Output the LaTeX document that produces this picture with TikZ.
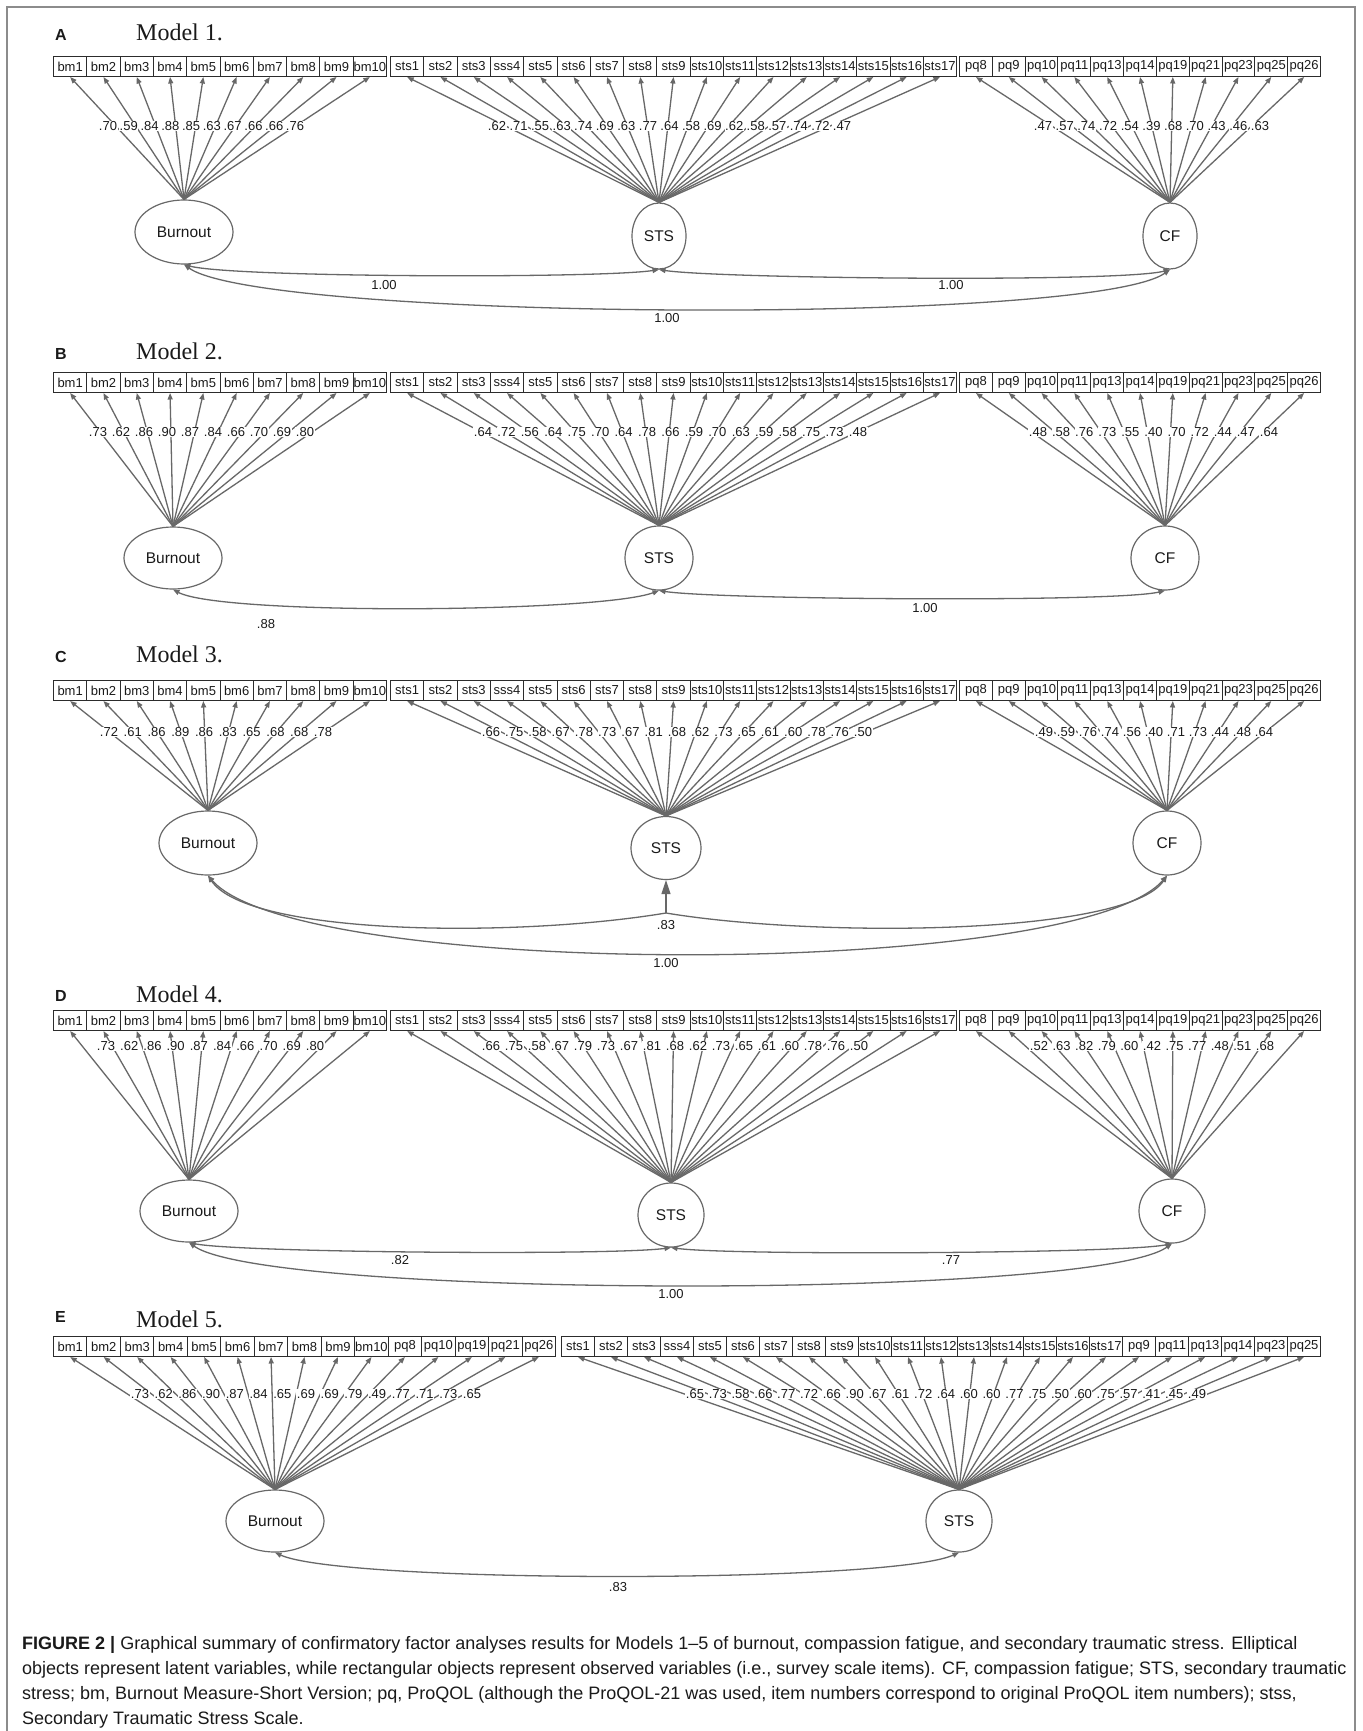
\documentclass[tikz,border=0pt]{standalone}
\usepackage{fontspec}
\setmainfont{Liberation Sans}
\newfontfamily\serifmodel{Liberation Serif}
\usetikzlibrary{arrows.meta,shapes.geometric}
\definecolor{ln}{HTML}{686868}
\definecolor{bx}{HTML}{2C2C2C}
\definecolor{tx}{HTML}{1A1A1A}
\definecolor{frm}{HTML}{8C8C8C}
\tikzset{
 itembox/.style={draw=bx, line width=1pt, minimum height=20pt, inner sep=0pt, anchor=north west, font=\fontsize{13}{13}\selectfont, text=tx},
 latent/.style={draw=ln, line width=1.2pt, ellipse, inner sep=0pt, font=\fontsize{15.5}{16}\selectfont, text=tx},
 load/.style={draw=ln, line width=1.3pt, arrows={-Triangle[length=6.5pt,width=5pt]}},
 cov/.style={draw=ln, line width=1.3pt, arrows={Triangle[length=6.5pt,width=5pt]-Triangle[length=6.5pt,width=5pt]}},
 bigarr/.style={draw=ln, line width=1.3pt, arrows={-Triangle[length=14pt,width=9pt]}},
 lbl/.style={fill=white, inner sep=0.5pt, font=\fontsize{13}{13}\selectfont, text=tx},
 covlbl/.style={inner sep=0pt, font=\fontsize{13}{13}\selectfont, text=tx},
 hdr/.style={anchor=base west, inner sep=0pt, font=\bfseries\fontsize{16}{16}\selectfont, text=tx},
 mdl/.style={anchor=base west, inner sep=0pt, font=\serifmodel\fontsize{24}{24}\selectfont, text=tx},
 capline/.style={anchor=base west, inner sep=0pt, font=\fontsize{18}{20}\selectfont, text=tx},
 framepath/.style={draw=frm, line width=1.5pt}
}
\def\bmL{bm1,bm2,bm3,bm4,bm5,bm6,bm7,bm8,bm9,bm10}
\def\stsL{sts1,sts2,sts3,sss4,sts5,sts6,sts7,sts8,sts9,sts10,sts11,sts12,sts13,sts14,sts15,sts16,sts17}
\def\pqL{pq8,pq9,pq10,pq11,pq13,pq14,pq19,pq21,pq23,pq25,pq26}
\def\leftL{bm1,bm2,bm3,bm4,bm5,bm6,bm7,bm8,bm9,bm10,pq8,pq10,pq19,pq21,pq26}
\def\rightL{sts1,sts2,sts3,sss4,sts5,sts6,sts7,sts8,sts9,sts10,sts11,sts12,sts13,sts14,sts15,sts16,sts17,pq9,pq11,pq13,pq14,pq23,pq25}
% #1 prefix #2 x0 #3 width #4 ytop #5 list macro
\newcommand\itemrow[5]{%
  \foreach \t [count=\i] in #5 {
    \node[itembox, minimum width=#3] (#1\i) at ({#2+(\i-1)*#3},#4) {\t};
  }%
}
% #1 latent #2 prefix #3 count
\newcommand\loadlines[3]{%
  \foreach \i in {1,...,#3} {\draw[load] (#1.north) -- (#2\i.south);}%
}
% #1 prefix #2 n #3 xfirst #4 xlast #5 y #6 list
\newcommand\lbls[6]{%
  \foreach \v [count=\i] in {#6} {
    \node[lbl] (#1\i) at ({#3+(\i-1)*(#4-#3)/(#2-1)},#5) {\v};
  }%
}
\begin{document}
\begin{tikzpicture}[x=1pt,y=-1pt]
\useasboundingbox (0,0) rectangle (1362,1731);
\fill[white] (0,0) rectangle (1362,1731);
\draw[framepath] (7,1731) -- (7,7) -- (1355,7) -- (1355,1731);

% ================= Model 1
\node[hdr] (hA) at (55,41) {A};
\node[mdl] (tA) at (136,41) {Model 1.};
\itemrow{m1b}{53}{33.3}{56}{\bmL}
\itemrow{m1s}{390}{33.3}{56}{\stsL}
\itemrow{m1p}{959}{32.82}{56}{\pqL}
\node[latent, minimum width=98, minimum height=64] (m1B) at (184,232) {Burnout};
\node[latent, minimum width=54, minimum height=66] (m1S) at (659,236) {STS};
\node[latent, minimum width=54, minimum height=66] (m1C) at (1170,236) {CF};
\loadlines{m1B}{m1b}{10}
\loadlines{m1S}{m1s}{17}
\loadlines{m1C}{m1p}{11}
\lbls{m1lb}{10}{108}{295}{126}{.70,.59,.84,.88,.85,.63,.67,.66,.66,.76}
\lbls{m1ls}{17}{497}{842}{126}{.62,.71,.55,.63,.74,.69,.63,.77,.64,.58,.69,.62,.58,.57,.74,.72,.47}
\lbls{m1lp}{11}{1043}{1260}{126}{.47,.57,.74,.72,.54,.39,.68,.70,.43,.46,.63}
\draw[cov] (m1B.south) .. controls +(50,13) and +(-60,9) .. (m1S.south);
\draw[cov] (m1S.south) .. controls +(60,9) and +(-50,13) .. (m1C.south);
\draw[cov] (m1B.south) .. controls +(80,56) and +(-80,56) .. (m1C.south);
\node[covlbl] (m1k1) at (384,285) {1.00};
\node[covlbl] (m1k2) at (951,285) {1.00};
\node[covlbl] (m1k3) at (667,318) {1.00};

% ================= Model 2
\node[hdr] (hB) at (55,359) {B};
\node[mdl] (tB) at (136,359) {Model 2.};
\itemrow{m2b}{53}{33.3}{372}{\bmL}
\itemrow{m2s}{390}{33.3}{372}{\stsL}
\itemrow{m2p}{959}{32.82}{372}{\pqL}
\node[latent, minimum width=98, minimum height=62] (m2B) at (173,558) {Burnout};
\node[latent, minimum width=68, minimum height=64] (m2S) at (659,558) {STS};
\node[latent, minimum width=68, minimum height=64] (m2C) at (1165,558) {CF};
\loadlines{m2B}{m2b}{10}
\loadlines{m2S}{m2s}{17}
\loadlines{m2C}{m2p}{11}
\lbls{m2lb}{10}{98}{305}{432}{.73,.62,.86,.90,.87,.84,.66,.70,.69,.80}
\lbls{m2ls}{17}{483}{858}{432}{.64,.72,.56,.64,.75,.70,.64,.78,.66,.59,.70,.63,.59,.58,.75,.73,.48}
\lbls{m2lp}{11}{1038}{1269}{432}{.48,.58,.76,.73,.55,.40,.70,.72,.44,.47,.64}
\draw[cov] (m2B.south) .. controls +(50,26) and +(-60,22) .. (m2S.south);
\draw[cov] (m2S.south) .. controls +(60,9) and +(-50,12) .. (m2C.south);
\node[covlbl] (m2k1) at (266,624) {.88};
\node[covlbl] (m2k2) at (925,608) {1.00};

% ================= Model 3
\node[hdr] (hC) at (55,662) {C};
\node[mdl] (tC) at (136,662) {Model 3.};
\itemrow{m3b}{53}{33.3}{680}{\bmL}
\itemrow{m3s}{390}{33.3}{680}{\stsL}
\itemrow{m3p}{959}{32.82}{680}{\pqL}
\node[latent, minimum width=98, minimum height=64] (m3B) at (208,843) {Burnout};
\node[latent, minimum width=70, minimum height=63] (m3S) at (666,848) {STS};
\node[latent, minimum width=68, minimum height=64] (m3C) at (1167,843) {CF};
\loadlines{m3B}{m3b}{10}
\loadlines{m3S}{m3s}{17}
\loadlines{m3C}{m3p}{11}
\lbls{m3lb}{10}{109}{323}{732}{.72,.61,.86,.89,.86,.83,.65,.68,.68,.78}
\lbls{m3ls}{17}{491}{863}{732}{.66,.75,.58,.67,.78,.73,.67,.81,.68,.62,.73,.65,.61,.60,.78,.76,.50}
\lbls{m3lp}{11}{1044}{1264}{732}{.49,.59,.76,.74,.56,.40,.71,.73,.44,.48,.64}
\coordinate (m3J) at (666,913);
\draw[cov] (m3B.south) .. controls +(40,60) and +(-150,25) .. (m3J) .. controls +(150,25) and +(-40,60) .. (m3C.south);
\draw[bigarr] (m3J) -- (m3S.south);
\draw[cov] (m3B.south) .. controls +(90,104) and +(-90,104) .. (m3C.south);
\node[covlbl] (m3k1) at (666,925) {.83};
\node[covlbl] (m3k2) at (666,963) {1.00};

% ================= Model 4
\node[hdr] (hD) at (55,1001) {D};
\node[mdl] (tD) at (136,1002) {Model 4.};
\itemrow{m4b}{53}{33.3}{1010}{\bmL}
\itemrow{m4s}{390}{33.3}{1010}{\stsL}
\itemrow{m4p}{959}{32.82}{1010}{\pqL}
\node[latent, minimum width=98, minimum height=62] (m4B) at (189,1211) {Burnout};
\node[latent, minimum width=66, minimum height=64] (m4S) at (671,1215) {STS};
\node[latent, minimum width=66, minimum height=64] (m4C) at (1172,1211) {CF};
\loadlines{m4B}{m4b}{10}
\loadlines{m4S}{m4s}{17}
\loadlines{m4C}{m4p}{11}
\lbls{m4lb}{10}{106}{315}{1046}{.73,.62,.86,.90,.87,.84,.66,.70,.69,.80}
\lbls{m4ls}{17}{491}{859}{1046}{.66,.75,.58,.67,.79,.73,.67,.81,.68,.62,.73,.65,.61,.60,.78,.76,.50}
\lbls{m4lp}{11}{1039}{1265}{1046}{.52,.63,.82,.79,.60,.42,.75,.77,.48,.51,.68}
\draw[cov] (m4B.south) .. controls +(50,10) and +(-60,8) .. (m4S.south);
\draw[cov] (m4S.south) .. controls +(60,8) and +(-50,10) .. (m4C.south);
\draw[cov] (m4B.south) .. controls +(80,56) and +(-80,56) .. (m4C.south);
\node[covlbl] (m4k1) at (400,1260) {.82};
\node[covlbl] (m4k2) at (951,1260) {.77};
\node[covlbl] (m4k3) at (671,1294) {1.00};

% ================= Model 5
\node[hdr] (hE) at (55,1322) {E};
\node[mdl] (tE) at (136,1327) {Model 5.};
\itemrow{m5l}{53}{33.47}{1336}{\leftL}
\itemrow{m5r}{561}{33.0}{1336}{\rightL}
\node[latent, minimum width=98, minimum height=62] (m5B) at (275,1521) {Burnout};
\node[latent, minimum width=66, minimum height=62] (m5S) at (959,1521) {STS};
\loadlines{m5B}{m5l}{15}
\loadlines{m5S}{m5r}{23}
\lbls{m5ll}{15}{140}{472}{1394}{.73,.62,.86,.90,.87,.84,.65,.69,.69,.79,.49,.77,.71,.73,.65}
\lbls{m5lr}{23}{695}{1197}{1394}{.65,.73,.58,.66,.77,.72,.66,.90,.67,.61,.72,.64,.60,.60,.77,.75,.50,.60,.75,.57,.41,.45,.49}
\draw[cov] (m5B.south) .. controls +(70,31) and +(-70,31) .. (m5S.south);
\node[covlbl] (m5k1) at (618,1587) {.83};

% ================= Caption
\node[capline] (cap1) at (22,1649) {\textbf{FIGURE 2 |} Graphical summary of confirmatory factor analyses results for Models 1--5 of burnout, compassion fatigue, and secondary traumatic stress. Elliptical};
\node[capline] (cap2) at (22,1674) {objects represent latent variables, while rectangular objects represent observed variables (i.e., survey scale items). CF, compassion fatigue; STS, secondary traumatic};
\node[capline] (cap3) at (22,1699) {stress; bm, Burnout Measure-Short Version; pq, ProQOL (although the ProQOL-21 was used, item numbers correspond to original ProQOL item numbers); stss,};
\node[capline] (cap4) at (22,1724) {Secondary Traumatic Stress Scale.};
\end{tikzpicture}
\end{document}
